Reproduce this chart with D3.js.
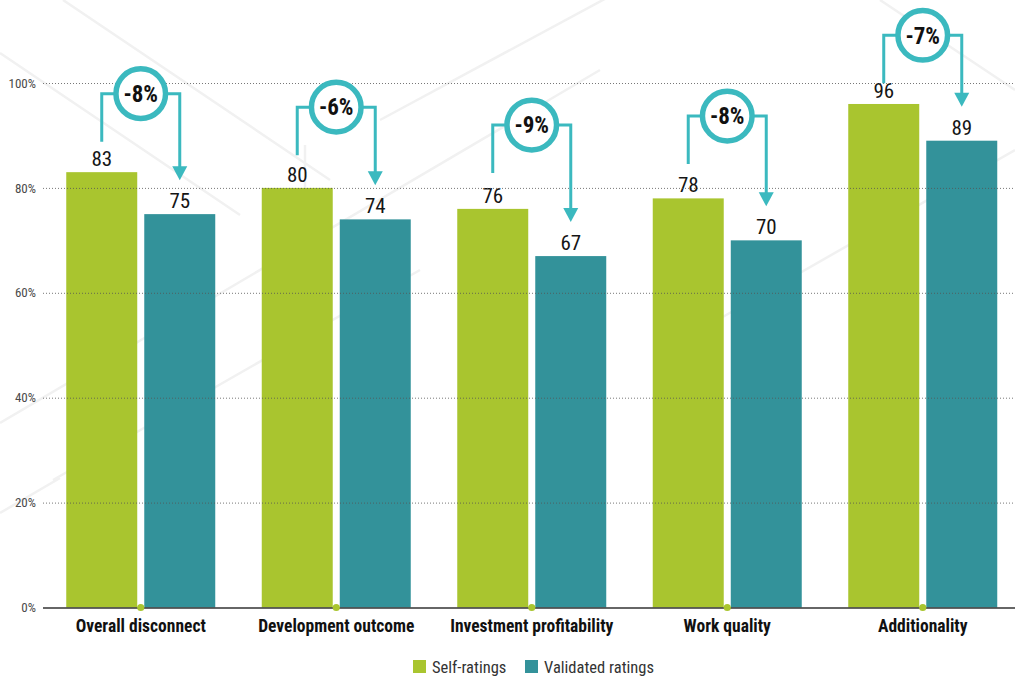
<!DOCTYPE html>
<html>
<head>
<meta charset="utf-8">
<script src="https://cdn.jsdelivr.net/npm/d3@7/dist/d3.min.js"></script>
<style>
  html, body { margin: 0; padding: 0; background: #fff; }
  svg { display: block; }
  text { font-family: "Liberation Sans Narrow", "Arial Narrow", "Roboto Condensed", "DejaVu Sans Condensed", sans-serif; }
</style>
</head>
<body>
<svg id="chart" width="1015" height="678"></svg>
<script>
// Share of ratings, by dimension
const categories = ["Overall disconnect", "Development outcome", "Investment profitability", "Work quality", "Additionality"];
const seriesNames = ["Self-ratings", "Validated ratings"];
const selfRatings = [83, 80, 76, 78, 96];
const validatedRatings = [75, 74, 67, 70, 89];
const yTicks = [0, 20, 40, 60, 80, 100];

const colors = { "Self-ratings": "#a9c52f", "Validated ratings": "#33929a" };
const accent = "#3bb9bf";

const rows = categories.map((c, i) => ({
  category: c,
  values: [
    { key: "Self-ratings", value: selfRatings[i] },
    { key: "Validated ratings", value: validatedRatings[i] }
  ]
}));

const svg = d3.select("#chart");

// decorative faint diagonal strokes in the background
const deco = svg.append("g").attr("stroke", "#f1f1f1").attr("stroke-width", 2.5).attr("fill", "none");
[
  [[63, 0], [330, 180]],
  [[0, 53], [240, 215]],
  [[0, 423], [600, 70]],
  [[53, 480], [420, 270]],
  [[0, 513], [60, 478]],
  [[305, 145], [305, 260]],
  [[380, 120], [640, -20]],
  [[880, 0], [1015, 90]],
  [[700, 330], [1015, 150]]
].forEach(p => deco.append("line").attr("x1", p[0][0]).attr("y1", p[0][1]).attr("x2", p[1][0]).attr("y2", p[1][1]));

const y = d3.scaleLinear().domain([0, 100]).range([607.5, 83]);
const x0 = d3.scaleBand().domain(categories).range([43, 1020.5]).paddingInner(0).paddingOuter(0);
const groupWidth = 149;
const x1 = d3.scaleBand().domain(seriesNames).range([0, groupWidth]).paddingInner(0.09);
const groupLeft = c => x0(c) + (x0.bandwidth() - groupWidth) / 2;
const groupCenter = c => x0(c) + x0.bandwidth() / 2;

// bars
const groups = svg.append("g").selectAll("g").data(rows).join("g")
  .attr("transform", d => `translate(${groupLeft(d.category)},0)`);

groups.selectAll("rect").data(d => d.values).join("rect")
  .attr("x", d => x1(d.key))
  .attr("y", d => y(d.value))
  .attr("width", x1.bandwidth())
  .attr("height", d => y(0) - y(d.value))
  .attr("fill", d => colors[d.key]);

// value labels
groups.selectAll("text.val").data(d => d.values).join("text")
  .attr("class", "val")
  .attr("x", d => x1(d.key) + x1.bandwidth() / 2)
  .attr("y", d => y(d.value) - 6)
  .attr("text-anchor", "middle")
  .attr("font-size", 21)
  .attr("fill", "#151515")
  .text(d => d.value);

// gridlines (dotted) drawn over the bars
const yAxis = d3.axisLeft(y).tickValues(yTicks).tickSize(0).tickFormat(d => d + "%");
const axisG = svg.append("g").attr("transform", "translate(43,0)").call(yAxis);
axisG.select(".domain").remove();
axisG.selectAll(".tick text")
  .attr("x", -7)
  .attr("font-size", 13)
  .attr("fill", "#4a4a4a")
  .attr("font-family", null);
axisG.selectAll(".tick").filter(d => d !== 0).append("line")
  .attr("x1", 0).attr("x2", 1015 - 43)
  .attr("stroke", "#555").attr("stroke-opacity", 0.8)
  .attr("stroke-width", 1).attr("stroke-dasharray", "1,2");
axisG.selectAll(".tick").filter(d => d === 0).append("line")
  .attr("x1", 0).attr("x2", 1015 - 43)
  .attr("stroke", "#333").attr("stroke-width", 1.6);

// category labels
const xAxis = d3.axisBottom(x0).tickSize(0).tickPadding(0);
const xg = svg.append("g").attr("transform", `translate(0,${y(0)})`).call(xAxis);
xg.select(".domain").remove();
xg.selectAll(".tick text")
  .attr("y", 24.5).attr("dy", null)
  .attr("font-size", 17.5)
  .attr("font-weight", "bold")
  .attr("fill", "#111")
  .attr("font-family", null);

// small markers on the baseline at each group centre
svg.append("g").selectAll("circle").data(categories).join("circle")
  .attr("cx", d => groupCenter(d))
  .attr("cy", y(0))
  .attr("r", 3.6)
  .attr("fill", colors["Self-ratings"]);

// change callouts: bracket from self-rating to validated rating, with the difference in a ring
const callouts = svg.append("g").selectAll("g").data(rows).join("g");
callouts.each(function (d, i) {
  const g = d3.select(this);
  const c = d.category;
  const selfV = selfRatings[i], valV = validatedRatings[i];
  const cx = groupCenter(c);
  const leftX = groupLeft(c) + x1("Self-ratings") + x1.bandwidth() / 2;
  const rightX = groupLeft(c) + x1("Validated ratings") + x1.bandwidth() / 2;
  const cy = 0.856 * y(selfV) - 53.7;
  const leftBottom = cy + 48;
  const tip = y(valV) - 34;
  const headH = 14, headW = 15;

  g.append("path")
    .attr("d", `M${leftX},${leftBottom}V${cy}H${rightX}V${tip - headH + 1}`)
    .attr("fill", "none")
    .attr("stroke", accent)
    .attr("stroke-width", 3);
  g.append("path")
    .attr("d", `M${rightX - headW / 2},${tip - headH}L${rightX + headW / 2},${tip - headH}L${rightX},${tip}Z`)
    .attr("fill", accent);
  g.append("circle")
    .attr("cx", cx).attr("cy", cy).attr("r", 24.8)
    .attr("fill", "#fff")
    .attr("stroke", accent)
    .attr("stroke-width", 5.5);
  g.append("text")
    .attr("x", cx).attr("y", cy)
    .attr("dy", "0.36em")
    .attr("text-anchor", "middle")
    .attr("font-size", 23)
    .attr("font-weight", "bold")
    .attr("fill", "#111")
    .text((valV - selfV) + "%");
});

// legend
const legend = svg.append("g").attr("transform", "translate(413,660)");
const items = legend.selectAll("g").data(seriesNames).join("g")
  .attr("transform", (d, i) => `translate(${i === 0 ? 0 : 112},0)`);
items.append("rect").attr("width", 13).attr("height", 13).attr("fill", d => colors[d]);
items.append("text")
  .attr("x", 19).attr("y", 12.5)
  .attr("font-size", 16.5)
  .attr("fill", "#333")
  .text(d => d);
</script>
</body>
</html>
